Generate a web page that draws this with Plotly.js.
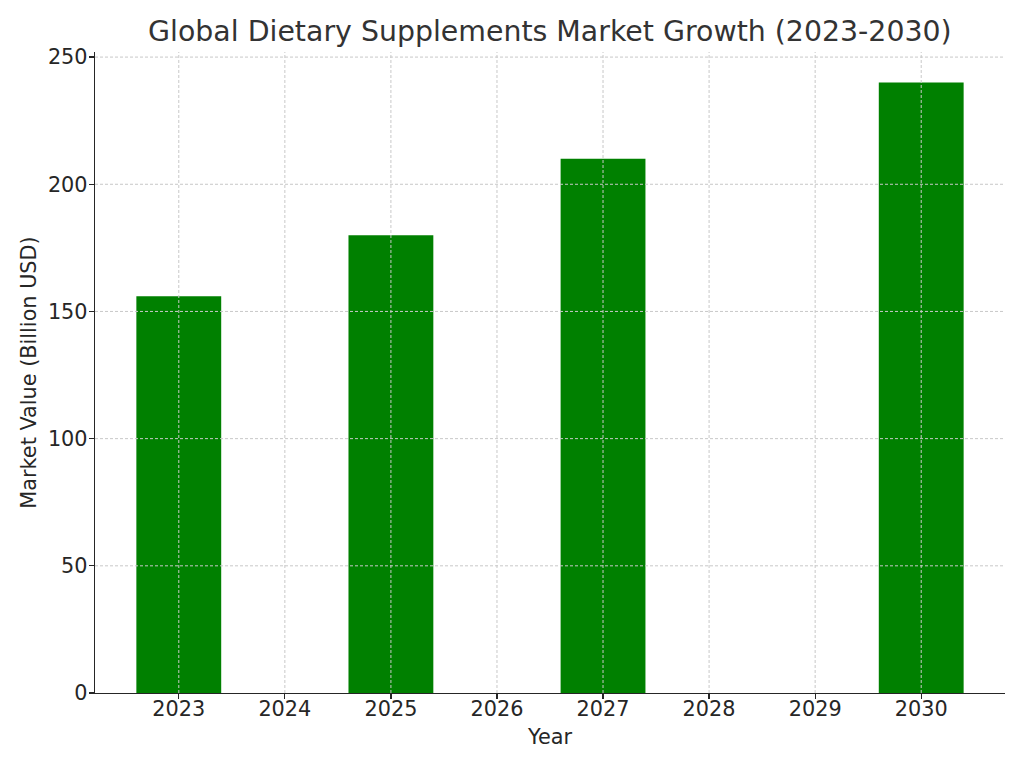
<!DOCTYPE html>
<html><head><meta charset="utf-8">
<script src="https://cdn.plot.ly/plotly-3.0.1.min.js"></script>
<style>html,body{margin:0;padding:0;background:#fff}#chart{width:1024px;height:768px}</style>
</head><body><div id="chart"></div>
<script>
const years = [2023, 2025, 2027, 2030];
const values = [156, 180, 210, 240];
const tickYears = [2023, 2024, 2025, 2026, 2027, 2028, 2029, 2030];
const tickLabels = ['2023', '2024', '2025', '2026', '2027', '2028', '2029', '2030'];
const yTicks = [0, 50, 100, 150, 200, 250];

const font = 'DejaVu Sans, sans-serif';
const fs = 20.8;
const gridStyle = {color: '#c8c8c8', width: 1, dash: '3px,2px'};
const shapes = [];
tickYears.forEach(v => shapes.push({type: 'line', xref: 'x', yref: 'paper', x0: v, x1: v, y0: 0, y1: 1, line: gridStyle, layer: 'above'}));
yTicks.filter(v => v > 0).forEach(v => shapes.push({type: 'line', xref: 'paper', yref: 'y', x0: 0, x1: 1, y0: v, y1: v, line: gridStyle, layer: 'above'}));

const data = [{
  type: 'bar', x: years, y: values, width: 0.8,
  marker: {color: '#008000', line: {width: 0}},
  hoverinfo: 'x+y'
}];
const layout = {
  width: 1024, height: 768,
  margin: {l: 95, r: 19, t: 52, b: 75},
  paper_bgcolor: '#fff', plot_bgcolor: '#fff',
  font: {family: font, color: '#262626', size: fs},
  title: {text: 'Global Dietary Supplements Market Growth (2023-2030)', font: {family: font, size: 28.4, color: '#333333'}, x: 0.537, xanchor: 'center', y: 0.96, yanchor: 'middle'},
  showlegend: false,
  shapes: shapes,
  xaxis: {
    range: [2022.21, 2030.79], tickmode: 'array', tickvals: tickYears, ticktext: tickLabels,
    showgrid: false,
    showline: true, linecolor: '#262626', linewidth: 1.25,
    ticks: 'outside', ticklen: 5, tickcolor: '#262626', tickwidth: 1.25,
    ticklabelstandoff: -8,
    zeroline: false, layer: 'above traces',
    title: {text: 'Year', font: {size: fs, color: '#262626'}, standoff: 9},
    tickfont: {size: fs, color: '#262626'}
  },
  yaxis: {
    range: [0, 252], tickmode: 'array', tickvals: yTicks,
    showgrid: false,
    showline: true, linecolor: '#262626', linewidth: 1.25,
    ticks: 'outside', ticklen: 5, tickcolor: '#262626', tickwidth: 1.25,
    ticklabelstandoff: -3,
    zeroline: false, layer: 'above traces',
    title: {text: 'Market Value (Billion USD)', font: {size: fs, color: '#262626'}, standoff: 5},
    tickfont: {size: fs, color: '#262626'}
  }
};
Plotly.newPlot('chart', data, layout, {displayModeBar: false, staticPlot: true});
</script></body></html>
